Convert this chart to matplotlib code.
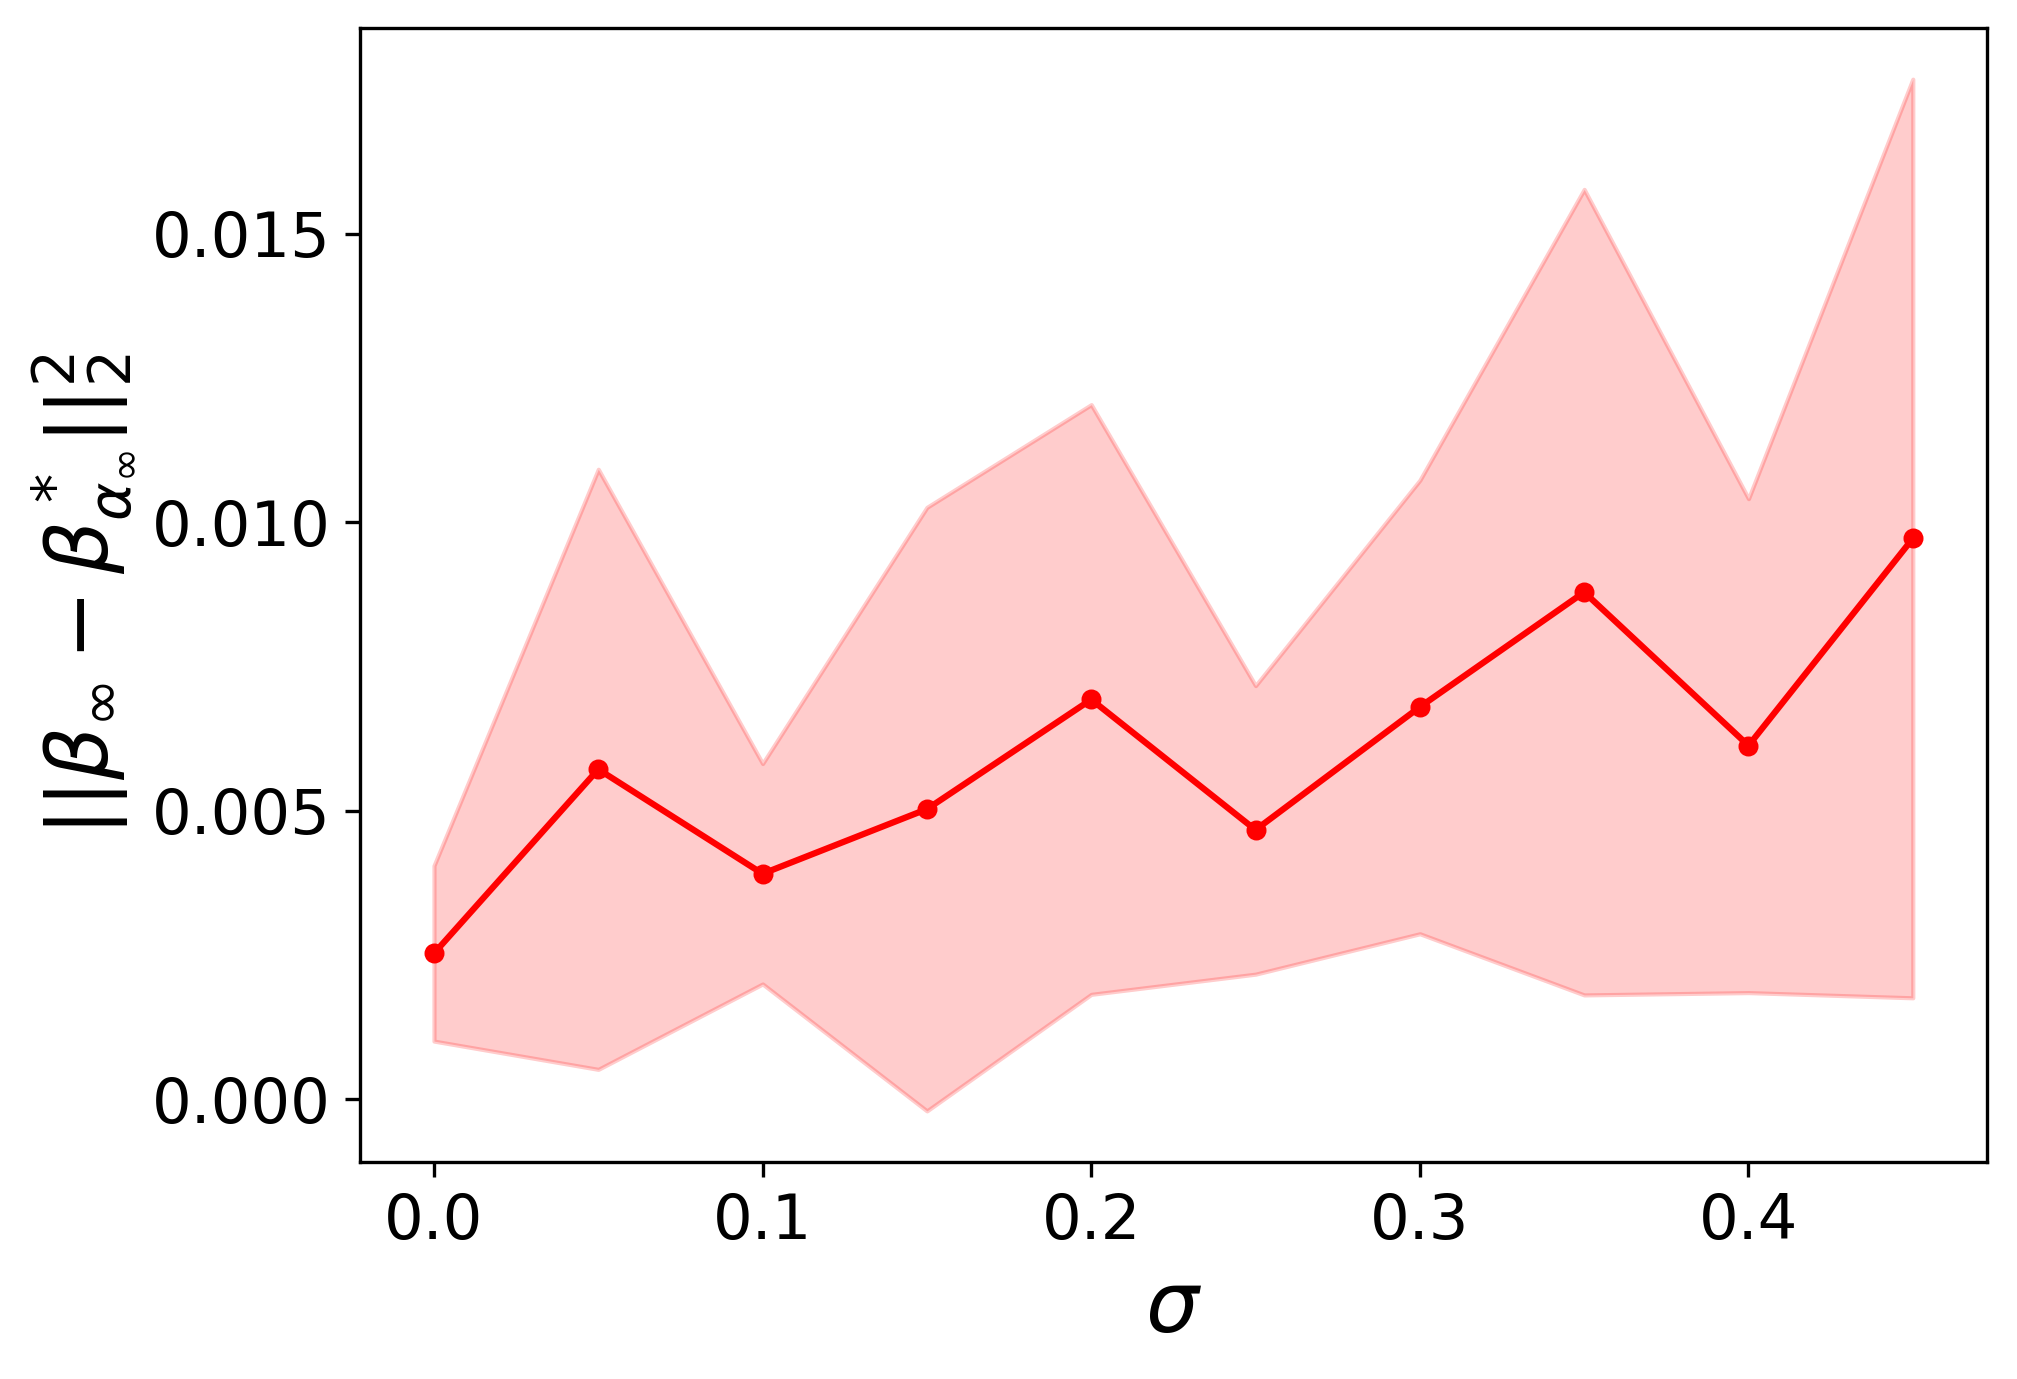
import matplotlib
matplotlib.use("Agg")
import matplotlib.pyplot as plt
import numpy as np

# noise levels and measured error (mean +/- std)
sigma = [0.0, 0.05, 0.1, 0.15, 0.2, 0.25, 0.3, 0.35, 0.4, 0.45]
err_mean = [0.00253, 0.00572, 0.00391, 0.00503, 0.00693, 0.00467, 0.00680, 0.00879, 0.00613, 0.00972]
err_std = [0.00152, 0.00520, 0.00191, 0.00523, 0.00511, 0.00250, 0.00393, 0.00698, 0.00428, 0.00796]

mean = np.array(err_mean)
std = np.array(err_std)

fig = plt.figure(figsize=(2017/300, 1379/300), dpi=300)
ax = fig.add_axes([0.1785, 0.157, 0.8065, 0.823])

ax.fill_between(sigma, mean - std, mean + std, color='r', alpha=0.2)
ax.plot(sigma, mean, color='r', marker='o', markersize=3.8, linewidth=1.5)

ax.set_yticks([0.0, 0.005, 0.010, 0.015])
ax.set_xticks([0.0, 0.1, 0.2, 0.3, 0.4])
ax.tick_params(labelsize=15)
ax.set_xlabel(r'$\sigma$', fontsize=20)
ax.set_ylabel(r'$||\beta_\infty - \beta^*_{\alpha_\infty}||_2^2$', fontsize=20)

fig.savefig('out.png', dpi=300)
